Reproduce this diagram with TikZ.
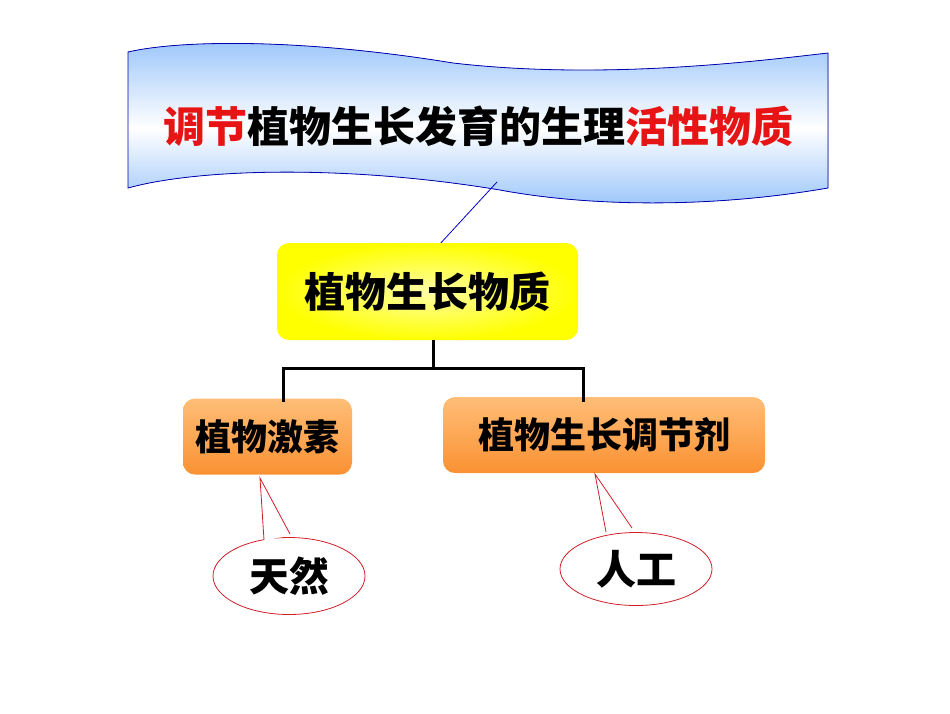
\documentclass[tikz,border=0pt]{standalone}
\usepackage{fontspec}
\newfontfamily\cjk{Noto Sans CJK SC}
\usetikzlibrary{shapes.geometric}
\definecolor{bannerblue}{RGB}{150,195,250}
\definecolor{rd}{RGB}{230,20,20}
\definecolor{org1}{RGB}{255,190,120}
\definecolor{org2}{RGB}{250,145,50}
\definecolor{callred}{RGB}{210,30,40}
\tikzset{
  yellowbox/.style={rounded corners=12pt, inner color=yellow!35!white, outer color=yellow, minimum width=301pt, minimum height=97pt, font=\cjk\bfseries\fontsize{41}{45}\selectfont},
  orangebox/.style={rounded corners=12pt, top color=org1, bottom color=org2, minimum height=76pt, font=\cjk\bfseries\fontsize{36}{40}\selectfont},
  callout/.style={ellipse, draw=callred, line width=0.8pt, fill=white, font=\cjk\bfseries\fontsize{40}{44}\selectfont},
  treeline/.style={line width=3pt, line cap=rect},
  bannerpath/.style={insert path={(128,52) .. controls (180,40) and (300,38) .. (453,63)
  .. controls (600,80) and (750,62) .. (828,53)
  -- (828,188) .. controls (700,210) and (580,205) .. (500,190)
  .. controls (350,165) and (200,168) .. (128,188) -- cycle}},
}
\begin{document}
\begin{tikzpicture}[x=1pt,y=-1pt]
\useasboundingbox (0,0) rectangle (950,713);
% banner
\begin{scope}
\clip[bannerpath];
\fill[top color=white, bottom color=bannerblue] (120,128) rectangle (840,210);
\fill[top color=bannerblue, bottom color=white] (120,35) rectangle (840,128);
\end{scope}
\draw[blue!70!black, line width=0.8pt, bannerpath];
\coordinate (bannerfoot) at (497,182);
\node (title) at (478,126) {\cjk\bfseries\fontsize{42}{46}\selectfont\color{rd}调节\color{black}植物生长发育的生理\color{rd}活性物质};
% main box
\node[yellowbox] (main) at (427.5,291.5) {植物生长物质};
\draw[blue!80!black, line width=0.8pt] (bannerfoot) -- (main.north -| 441,0);
% children
\node[orangebox, minimum width=169pt] (hormone) at (267.5,436.5) {植物激素};
\node[orangebox, minimum width=322pt] (regul) at (604,435) {植物生长调节剂};
\coordinate (j) at (433,368);
\draw[treeline] (433,341) -- (j);
\draw[treeline] (283,400) -- (283,368) -- (583,368) -- (583,400);
% callouts
\node[callout, minimum width=152pt, minimum height=77pt] (tianran) at (289,576) {天然};
\node[callout, minimum width=152pt, minimum height=73pt] (rengong) at (636,569) {人工};
\coordinate (t1) at (260,478);
\coordinate (t2) at (595,474);
\fill[white] (264,541) -- (t1) -- (290,535) -- cycle;
\draw[callred, line width=0.8pt] (264,540) -- (t1) -- (290,534);
\fill[white] (606,533) -- (t2) -- (632,529) -- cycle;
\draw[callred, line width=0.8pt] (606,532) -- (t2) -- (632,528);
\end{tikzpicture}
\end{document}
